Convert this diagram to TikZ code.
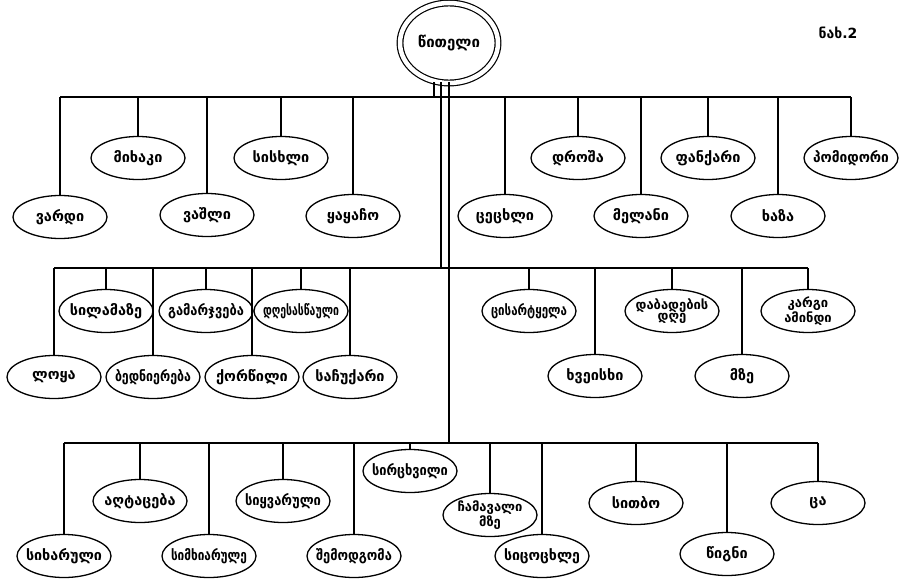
\documentclass[tikz,border=0pt]{standalone}
\usepackage{fontspec}
\usepackage{graphicx}
\setmainfont{DejaVu Sans}
\usetikzlibrary{shapes.geometric}
\newsavebox\fitbox
\newcommand\fitw[1]{\sbox\fitbox{#1}\ifdim\wd\fitbox>76pt\pgfmathsetmacro\fitf{76pt/\the\wd\fitbox}\scalebox{\fitf}[1]{\usebox\fitbox}\else\usebox\fitbox\fi}
\tikzset{
  leaf/.style={ellipse, draw, line width=1.3pt, fill=white, minimum width=94pt, minimum height=43pt, inner xsep=-14pt, inner ysep=0pt, font=\bfseries\fontsize{14.5}{12}\selectfont, align=center},
  twoline/.style={leaf, font=\bfseries\fontsize{13}{11.5}\selectfont},
  rootnode/.style={ellipse, draw, double, double distance=4.5pt, line width=1.2pt, fill=white, minimum width=98pt, minimum height=80pt, inner sep=0pt, font=\bfseries\fontsize{15}{15}\selectfont},
  link/.style={line width=1.2pt},
  bar/.style={line width=1.8pt},
}
\begin{document}
\begin{tikzpicture}[x=1pt,y=-1pt]
\fill[white] (0,0) rectangle (899,583);
\useasboundingbox (0,0) rectangle (899,583);

% root and figure label
\node[rootnode] (top) at (449,43) {წითელი};
\node[font=\bfseries\fontsize{14}{14}\selectfont] (fig) at (838,33) {ნახ.2};

% bar coordinates
\coordinate (t1) at (434,97);
\coordinate (t2) at (441,268);
\coordinate (t3) at (449,443);

% level 1
\node[leaf] (vardi) at (60,217) {\fitw{ვარდი}};
\node[leaf] (mikhaki) at (138,158) {\fitw{მიხაკი}};
\node[leaf] (vashli) at (207,215) {\fitw{ვაშლი}};
\node[leaf] (siskhli) at (281,158) {\fitw{სისხლი}};
\node[leaf] (qaqacho) at (353,216) {\fitw{ყაყაჩო}};
\node[leaf] (tsetskhli) at (505,216) {\fitw{ცეცხლი}};
\node[leaf] (drosha) at (578,158) {\fitw{დროშა}};
\node[leaf] (melani) at (641,216) {\fitw{მელანი}};
\node[leaf] (pankari) at (708,158) {\fitw{ფანქარი}};
\node[leaf] (khaza) at (778,216) {\fitw{ხაზა}};
\node[leaf] (pomidori) at (851,158) {\fitw{პომიდორი}};

% level 2
\node[leaf] (loqa) at (54,377) {\fitw{ლოყა}};
\node[leaf] (silamaze) at (106,311) {\fitw{სილამაზე}};
\node[leaf] (bedniereba) at (153,377) {\fitw{ბედნიერება}};
\node[leaf] (gamarjveba) at (206,311) {\fitw{გამარჯვება}};
\node[leaf] (kortsili) at (252,377) {\fitw{ქორწილი}};
\node[leaf] (dghesastsauli) at (301,311) {\fitw{დღესასწაული}};
\node[leaf] (sachukari) at (350,377) {\fitw{საჩუქარი}};
\node[leaf] (tsisartkela) at (529,311) {\fitw{ცისარტყელა}};
\node[leaf] (khveskhi) at (595,376) {\fitw{ხვეისხი}};
\node[twoline] (dabadeba) at (672,311) {\fitw{დაბადების}\\დღე};
\node[leaf] (mze) at (742,376) {\fitw{მზე}};
\node[twoline] (amindi) at (808,311) {კარგი\\ამინდი};

% level 3
\node[leaf] (sikharuli) at (64,556) {\fitw{სიხარული}};
\node[leaf] (aghtaceba) at (140,501) {\fitw{აღტაცება}};
\node[leaf] (simkhiarule) at (209,556) {\fitw{სიმხიარულე}};
\node[leaf] (siqvaruli) at (283,501) {\fitw{სიყვარული}};
\node[leaf] (shemodgoma) at (354,556) {\fitw{შემოდგომა}};
\node[leaf] (sirtskhvili) at (410,471) {\fitw{სირცხვილი}};
\node[twoline] (chamavali) at (490,515) {\fitw{ჩამავალი}\\მზე};
\node[leaf] (sitsotskhle) at (542,556) {\fitw{სიცოცხლე}};
\node[leaf] (sitbo) at (636,503) {\fitw{სითბო}};
\node[leaf] (tsigni) at (727,554) {\fitw{წიგნი}};
\node[leaf] (tsa) at (818,503) {\fitw{ცა}};

% trunk
\draw[link] ([yshift=1.5pt]top.south -| t1) -- (t1);
\draw[link] ([yshift=1.5pt]top.south -| t2) -- (t2);
\draw[link] ([yshift=1.5pt]top.south -| t3) -- (t3);

% bars
\draw[bar] (vardi |- t1) -- (pomidori |- t1);
\draw[bar] (loqa |- t2) -- (amindi |- t2);
\draw[bar] (sikharuli |- t3) -- (tsa |- t3);

% verticals
\foreach \n in {vardi,mikhaki,vashli,siskhli,qaqacho,tsetskhli,drosha,melani,pankari,khaza,pomidori}
  \draw[link] (\n) -- (\n |- t1);
\foreach \n in {loqa,silamaze,bedniereba,gamarjveba,kortsili,dghesastsauli,sachukari,tsisartkela,khveskhi,dabadeba,mze,amindi}
  \draw[link] (\n) -- (\n |- t2);
\foreach \n in {sikharuli,aghtaceba,simkhiarule,siqvaruli,shemodgoma,sirtskhvili,chamavali,sitsotskhle,sitbo,tsigni,tsa}
  \draw[link] (\n) -- (\n |- t3);
\end{tikzpicture}
\end{document}
